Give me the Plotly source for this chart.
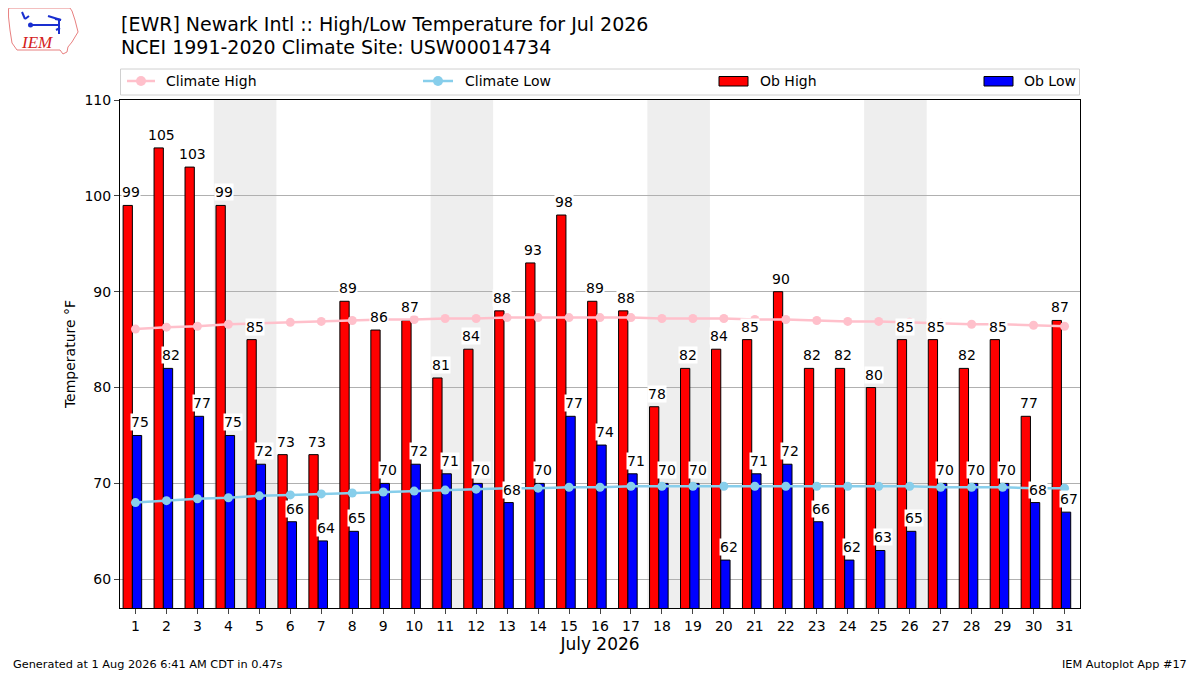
import plotly.graph_objects as go

# dados de julho 2026 - EWR
dias = list(range(1, 32))
ob_high = [99, 105, 103, 99, 85, 73, 73, 89, 86, 87, 81, 84, 88, 93, 98, 89,
           88, 78, 82, 84, 85, 90, 82, 82, 80, 85, 85, 82, 85, 77, 87]
ob_low = [75, 82, 77, 75, 72, 66, 64, 65, 70, 72, 71, 70, 68, 70, 77, 74,
          71, 70, 70, 62, 71, 72, 66, 62, 63, 65, 70, 70, 70, 68, 67]
clim_high = [86.1, 86.3, 86.4, 86.6, 86.7, 86.8, 86.9, 87.0, 87.1, 87.1, 87.2,
             87.2, 87.3, 87.3, 87.3, 87.3, 87.3, 87.2, 87.2, 87.2, 87.1, 87.1,
             87.0, 86.9, 86.9, 86.8, 86.7, 86.6, 86.6, 86.5, 86.4]
clim_low = [68.0, 68.2, 68.4, 68.5, 68.7, 68.8, 68.9, 69.0, 69.1, 69.2, 69.3,
            69.4, 69.5, 69.5, 69.6, 69.6, 69.7, 69.7, 69.7, 69.7, 69.7, 69.7,
            69.7, 69.7, 69.7, 69.7, 69.6, 69.6, 69.6, 69.5, 69.5]
fins_de_semana = [4, 11, 18, 25]  # sabados

W, H = 1200, 675
OFF = 8  # margem padrao do <body> na pagina
ML, MT = 120 - OFF, 100 - OFF
PW, PH = 960, 508
MR, MB = W - ML - PW, H - MT - PH
FONTE = "DejaVu Sans"


def px2paper(px, py):
    # converte pixel da tela (referencia) para coordenadas paper
    return (px - OFF - ML) / PW, (MT + PH - (py - OFF)) / PH


def texto_px(txt, px, py, size=14, xanchor="left", **kw):
    x, y = px2paper(px, py)
    return dict(text=txt, xref="paper", yref="paper", x=x, y=y,
                xanchor=xanchor, yanchor="middle", showarrow=False,
                font=dict(size=size, color=kw.pop("color", "black"),
                          family=kw.pop("family", FONTE)), **kw)


def linha_px(a0, b0, a1, b1, cor, larg):
    x0, y0 = px2paper(a0, b0)
    x1, y1 = px2paper(a1, b1)
    return dict(type="line", xref="paper", yref="paper", x0=x0, y0=y0,
                x1=x1, y1=y1, line=dict(color=cor, width=larg))


def rect_px(a0, b0, a1, b1, **kw):
    x0, y0 = px2paper(a0, b0)
    x1, y1 = px2paper(a1, b1)
    return dict(type="rect", xref="paper", yref="paper", x0=x0, y0=y0,
                x1=x1, y1=y1, **kw)


def circ_px(cx, cy, r, cor):
    x0, y0 = px2paper(cx - r, cy + r)
    x1, y1 = px2paper(cx + r, cy - r)
    return dict(type="circle", xref="paper", yref="paper", x0=x0, y0=y0,
                x1=x1, y1=y1, fillcolor=cor, line_width=0)


fig = go.Figure()

fig.add_trace(go.Bar(
    x=dias, y=ob_high, name="Ob High", width=0.3, offset=-0.4,
    marker=dict(color="#ff0000", line=dict(color="black", width=1)),
))
fig.add_trace(go.Bar(
    x=dias, y=ob_low, name="Ob Low", width=0.3, offset=-0.1,
    marker=dict(color="#0000ff", line=dict(color="black", width=1)),
))
fig.add_trace(go.Scatter(
    x=dias, y=clim_high, name="Climate High", mode="lines+markers",
    line=dict(color="pink", width=2.5), marker=dict(color="pink", size=9),
))
fig.add_trace(go.Scatter(
    x=dias, y=clim_low, name="Climate Low", mode="lines+markers",
    line=dict(color="skyblue", width=2.5), marker=dict(color="skyblue", size=9),
))

shapes = []
# sombreado dos fins de semana
for d in fins_de_semana:
    shapes.append(dict(type="rect", xref="x", yref="paper", x0=d - 0.47,
                       x1=d + 1.55, y0=0, y1=1, fillcolor="#eeeeee",
                       line_width=0, layer="below"))

# rotulos dos valores
anots = []
for d, v in zip(dias, ob_high):
    anots.append(dict(x=d - 0.15, y=v, text=str(v), xref="x", yref="y",
                      yanchor="bottom", showarrow=False, bgcolor="white",
                      borderpad=0, yshift=4, font=dict(size=14, color="black")))
for d, v in zip(dias, ob_low):
    anots.append(dict(x=d + 0.15, y=v, text=str(v), xref="x", yref="y",
                      yanchor="bottom", showarrow=False, bgcolor="white",
                      borderpad=0, yshift=4, font=dict(size=14, color="black")))

# titulo (duas linhas)
anots.append(texto_px("[EWR] Newark Intl :: High/Low Temperature for Jul 2026",
                      119, 24, size=19))
anots.append(texto_px("NCEI 1991-2020 Climate Site: USW00014734", 119, 47, size=19))

# legenda feita a mao, igual ao matplotlib
shapes.append(rect_px(120.5, 69, 1079.5, 95, line=dict(color="#d0d0d0", width=1),
                      fillcolor="white"))
shapes.append(linha_px(127, 81, 155, 81, "pink", 2.5))
shapes.append(circ_px(141, 81, 5, "pink"))
anots.append(texto_px("Climate High", 164, 81))
shapes.append(linha_px(423, 81, 453, 81, "skyblue", 2.5))
shapes.append(circ_px(438, 81, 5, "skyblue"))
anots.append(texto_px("Climate Low", 463, 81))
shapes.append(rect_px(719, 76.5, 748, 86, fillcolor="#ff0000",
                      line=dict(color="black", width=1)))
anots.append(texto_px("Ob High", 758, 81))
shapes.append(rect_px(984, 76.5, 1013, 86, fillcolor="#0000ff",
                      line=dict(color="black", width=1)))
anots.append(texto_px("Ob Low", 1022, 81))

# rodape
anots.append(texto_px("Generated at 1 Aug 2026 6:41 AM CDT in 0.47s", 11, 664,
                      size=11.3))
anots.append(texto_px("IEM Autoplot App #17", 1189, 664, size=11.3,
                      xanchor="right"))

# logo IEM (simplificado)
contorno = [(9, 8), (70, 8), (72, 11), (75, 20), (78, 32), (75, 37), (72, 42),
            (68, 47), (67, 52), (63, 54), (60, 50), (17, 50), (12, 43),
            (10, 30), (8.5, 17), (8.5, 9)]
caminho = "M " + " L ".join("%.4f,%.4f" % px2paper(a, b) for a, b in contorno) + " Z"
shapes.append(dict(type="path", xref="paper", yref="paper", path=caminho,
                   line=dict(color="#e88080", width=1)))
for seg in [(30, 25, 58, 25), (59, 20, 59, 34), (22, 12, 25, 19),
            (25, 19, 29, 16), (48, 16, 61, 20), (61, 20, 55, 19),
            (56, 30, 60, 28)]:
    shapes.append(linha_px(*seg, cor="#1a2fd0", larg=2))
shapes.append(circ_px(30.5, 25, 2.5, "#1a2fd0"))
anots.append(texto_px("<i>IEM</i>", 37, 43, size=17, xanchor="center",
                      family="Liberation Serif", color="#d42020"))

fig.update_layout(
    width=W, height=H,
    margin=dict(l=ML, r=MR, t=MT, b=MB),
    paper_bgcolor="white", plot_bgcolor="white",
    barmode="overlay", showlegend=False,
    font=dict(family=FONTE, size=14, color="black"),
    shapes=shapes,
    annotations=anots,
    xaxis=dict(
        range=[0.5, 31.5], tickmode="array", tickvals=dias,
        ticktext=[str(d) for d in dias], ticks="outside", ticklen=5,
        showgrid=False, showline=True, linecolor="black", mirror=True,
        zeroline=False, automargin=False,
        title=dict(text="July 2026", font=dict(size=17), standoff=5),
        tickfont=dict(size=14),
    ),
    yaxis=dict(
        range=[57, 110], tickvals=[60, 70, 80, 90, 100, 110], ticks="outside",
        ticklen=5, showgrid=True, gridcolor="#b0b0b0", showline=True,
        linecolor="black", mirror=True, zeroline=False, automargin=False,
        title=dict(text="Temperature °F", font=dict(size=14), standoff=5),
        tickfont=dict(size=14),
    ),
)

fig.write_html("out.html")
